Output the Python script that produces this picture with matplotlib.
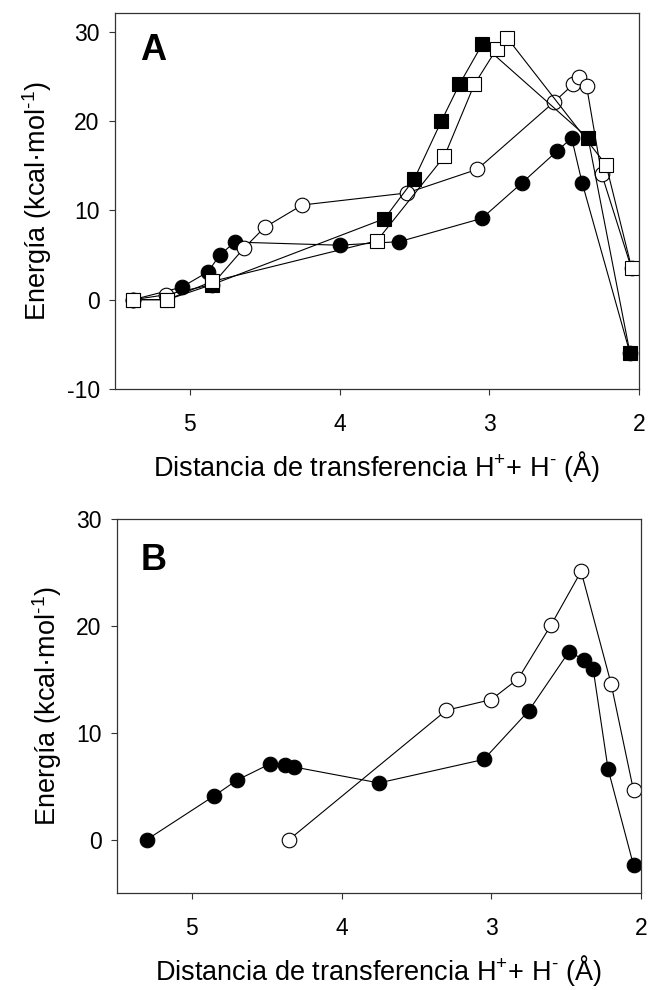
import matplotlib
matplotlib.use("Agg")
import matplotlib.pyplot as plt

plt.rcParams['font.family'] = ['Liberation Sans', 'DejaVu Sans']
plt.rcParams['mathtext.fontset'] = 'custom'
plt.rcParams['mathtext.rm'] = 'Liberation Sans'
plt.rcParams['mathtext.it'] = 'Liberation Sans:italic'
plt.rcParams['mathtext.bf'] = 'Liberation Sans:bold'
plt.rcParams['axes.unicode_minus'] = False

# ---------------- Panel A data ----------------
a_fc_x = [5.38, 5.055, 4.88, 4.80, 4.70, 4.00, 3.60, 3.05, 2.78, 2.55, 2.45, 2.38, 2.06]
a_fc_y = [0.0, 1.4, 3.1, 5.0, 6.45, 6.1, 6.5, 9.1, 13.1, 16.6, 18.1, 13.1, -6.0]

a_oc_x = [5.38, 5.16, 4.85, 4.64, 4.50, 4.25, 3.55, 3.08, 2.57, 2.44, 2.40, 2.35, 2.25, 2.05]
a_oc_y = [0.0, 0.55, 1.7, 5.75, 8.1, 10.6, 11.95, 14.6, 22.1, 24.1, 24.9, 23.9, 14.1, 3.5]

a_fs_x = [5.38, 5.15, 4.85, 3.70, 3.50, 3.32, 3.20, 3.047, 2.34, 2.06]
a_fs_y = [0.0, 0.0, 1.7, 9.07, 13.55, 20.0, 24.1, 28.6, 18.1, -6.0]

a_os_x = [5.38, 5.15, 4.85, 3.75, 3.30, 3.10, 2.95, 2.88, 2.22, 2.05]
a_os_y = [0.0, 0.0, 2.05, 6.6, 16.05, 24.1, 28.1, 29.3, 15.1, 3.6]

# ---------------- Panel B data ----------------
b_fc_x = [5.30, 4.85, 4.70, 4.48, 4.38, 4.32, 3.75, 3.05, 2.75, 2.48, 2.38, 2.32, 2.22, 2.05]
b_fc_y = [0.0, 4.1, 5.55, 7.07, 7.0, 6.8, 5.3, 7.5, 12.05, 17.6, 16.8, 16.0, 6.6, -2.4]

b_oc_x = [4.35, 3.30, 3.00, 2.82, 2.60, 2.40, 2.20, 2.05]
b_oc_y = [0.0, 12.1, 13.1, 15.05, 20.1, 25.1, 14.6, 4.6]

x_ticks = [5, 4, 3, 2]
a_y_ticks = [-10, 0, 10, 20, 30]
b_y_ticks = [0, 10, 20, 30]

xlabel = 'Distancia de transferencia H$^{+}$+ H$^{\u2010}$ (Å)'
ylabel = 'Energía (kcal·mol$^{\u20101}$)'

W, H = 648, 990
fig = plt.figure(figsize=(W / 100, H / 100), dpi=100)

def px_axes(left, top, right, bottom):
    return fig.add_axes([left / W, 1 - bottom / H, (right - left) / W, (bottom - top) / H])

axA = px_axes(115, 13, 639, 389)
axB = px_axes(117, 519, 641, 893)

lw = 0.8
mew = 0.8
cs = 10.5
ss = 9.8

def series(ax, x, y, marker, face, ms):
    ax.plot(x, y, color='black', lw=lw, marker=marker, ms=ms,
            markerfacecolor=face, markeredgecolor='black', markeredgewidth=mew)

series(axA, a_fc_x, a_fc_y, 'o', 'black', cs)
series(axA, a_oc_x, a_oc_y, 'o', 'white', cs)
series(axA, a_fs_x, a_fs_y, 's', 'black', ss)
series(axA, a_os_x, a_os_y, 's', 'white', ss)

series(axB, b_fc_x, b_fc_y, 'o', 'black', cs)
series(axB, b_oc_x, b_oc_y, 'o', 'white', cs)

axA.set_xlim(5.5, 2)
axA.set_ylim(-10, 32.1)
axA.set_yticks(a_y_ticks)
axB.set_xlim(5.5, 2)
axB.set_ylim(-5, 30)
axB.set_yticks(b_y_ticks)

for ax in (axA, axB):
    ax.set_xticks(x_ticks)
    ax.set_xticklabels([str(t) for t in x_ticks])
    ax.tick_params(direction='out', length=4, width=0.8, labelsize=16.5, color='#333333')
    ax.tick_params(axis='x', pad=13)
    ax.tick_params(axis='y', pad=7)
    for s in ax.spines.values():
        s.set_linewidth(0.9)
        s.set_color('#333333')
    ax.set_xlabel(xlabel, fontsize=19.5, labelpad=9.5)
    ax.set_ylabel(ylabel, fontsize=19.5, labelpad=9)

axA.text(0.073, 0.90, 'A', transform=axA.transAxes, fontsize=26, fontweight='bold',
         ha='center', va='center')
axB.text(0.069, 0.89, 'B', transform=axB.transAxes, fontsize=26, fontweight='bold',
         ha='center', va='center')

fig.savefig('out.png', dpi=100)
